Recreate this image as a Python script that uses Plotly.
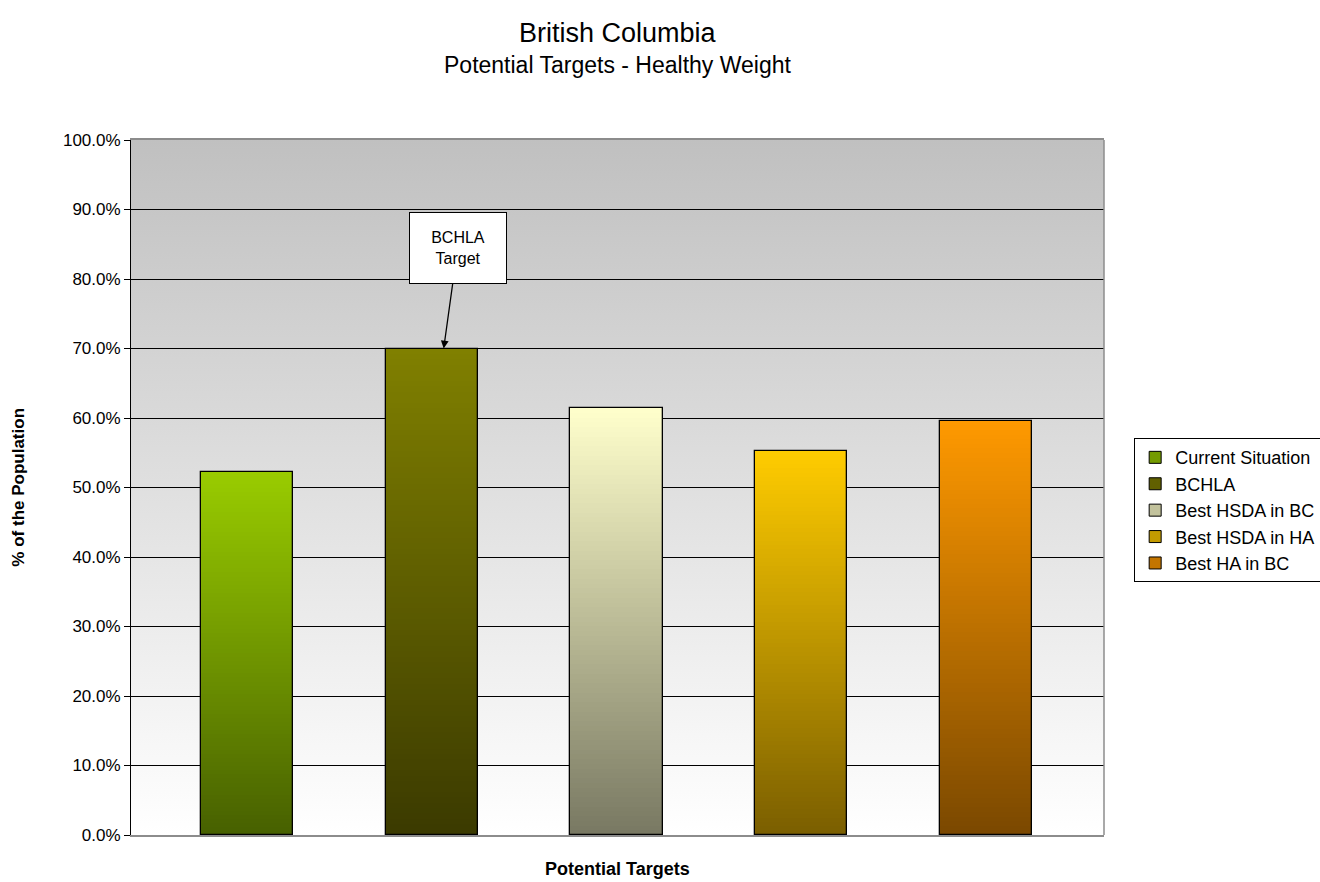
import base64
import plotly.graph_objects as go

# ---- data -------------------------------------------------------------
categories = ["Current Situation", "BCHLA", "Best HSDA in BC",
              "Best HSDA in HA", "Best HA in BC"]
values = [52.3, 70.0, 61.4, 55.2, 59.6]
top_colors = ["#99CC00", "#808000", "#FFFFCC", "#FFCC00", "#FF9900"]
bottom_colors = ["#476000", "#3B3A00", "#787862", "#7A5E00", "#7A4800"]
y_ticks = [0, 10, 20, 30, 40, 50, 60, 70, 80, 90, 100]

FONT = "Liberation Sans, Arial, sans-serif"
N_STEPS = 90  # vertical gradient steps per bar


def hex_rgb(h):
    h = h.lstrip("#")
    return tuple(int(h[i:i + 2], 16) for i in (0, 2, 4))


def mix(c0, c1, t):
    a, b = hex_rgb(c0), hex_rgb(c1)
    return "rgb(%d,%d,%d)" % tuple(round(a[i] + (b[i] - a[i]) * t) for i in range(3))


xpos = list(range(len(categories)))
fig = go.Figure()

# legend entries (solid swatches, covered by the gradient bars)
for i, (cat, v) in enumerate(zip(categories, values)):
    fig.add_trace(go.Bar(
        x=[xpos[i]], y=[v], name=cat, width=0.5,
        marker=dict(color=mix(bottom_colors[i], top_colors[i], 0.55),
                    line=dict(color="black", width=1)),
        hoverinfo="skip",
    ))

# gradient fill: each bar is stacked from thin bands, dark at the base
for k in range(N_STEPS):
    t = (k + 0.5) / N_STEPS
    fig.add_trace(go.Bar(
        x=xpos,
        y=[v / N_STEPS * 1.01 if k < N_STEPS - 1 else v / N_STEPS for v in values],
        base=[v * k / N_STEPS for v in values],
        width=0.5,
        marker=dict(color=[mix(b, tc, t) for b, tc in zip(bottom_colors, top_colors)],
                    line=dict(width=0)),
        showlegend=False, hoverinfo="skip",
    ))

# bar outlines
fig.add_trace(go.Bar(
    x=xpos, y=values, width=0.5,
    marker=dict(color="rgba(0,0,0,0)", line=dict(color="black", width=1.3)),
    showlegend=False, customdata=categories,
    hovertemplate="%{customdata}: %{y:.1f}%<extra></extra>",
))

# plot-area background: grey at the top fading to white
svg = ('<svg xmlns="http://www.w3.org/2000/svg" width="100" height="100" '
       'viewBox="0 0 100 100" preserveAspectRatio="none">'
       '<defs><linearGradient id="g" x1="0" y1="0" x2="0" y2="1">'
       '<stop offset="0" stop-color="#c0c0c0"/>'
       '<stop offset="1" stop-color="#ffffff"/></linearGradient></defs>'
       '<rect width="100" height="100" fill="url(#g)"/></svg>')
bg_uri = "data:image/svg+xml;base64," + base64.b64encode(svg.encode()).decode()

fig.update_layout(
    width=1320, height=882, autosize=False,
    margin=dict(l=131, r=216, t=140, b=47, autoexpand=False),
    paper_bgcolor="white", plot_bgcolor="rgba(0,0,0,0)",
    barmode="overlay", bargap=0,
    font=dict(family=FONT, size=17, color="black"),
    images=[dict(source=bg_uri, xref="paper", yref="paper", x=0, y=1,
                 sizex=1, sizey=1, xanchor="left", yanchor="top",
                 sizing="stretch", layer="below")],
    xaxis=dict(range=[-0.628, 4.64], showticklabels=False, ticks="",
               showgrid=False, zeroline=False, showline=True,
               linecolor="#8c8c8c", linewidth=1.5, mirror=True, fixedrange=True),
    yaxis=dict(range=[0, 100], tickvals=y_ticks,
               ticktext=["%.1f%%" % t for t in y_ticks],
               showgrid=True, gridcolor="black", gridwidth=1,
               showline=True, linecolor="black", linewidth=1,
               ticks="outside", ticklen=6, tickcolor="black",
               zeroline=False, tickfont=dict(size=17), fixedrange=True),
    legend=dict(x=1.031, y=0.571, xanchor="left", yanchor="top",
                bgcolor="white", bordercolor="black", borderwidth=1,
                font=dict(size=18), tracegroupgap=0, itemclick=False,
                itemwidth=30),
    shapes=[dict(type="line", xref="x domain", yref="y domain",
                 x0=1, x1=1, y0=0, y1=1, layer="above",
                 line=dict(color="#8c8c8c", width=1.5))],
    annotations=[
        dict(text="British Columbia", xref="paper", yref="paper",
             x=0.5, y=1.154, xanchor="center", yanchor="middle",
             showarrow=False, font=dict(size=27)),
        dict(text="Potential Targets - Healthy Weight", xref="paper", yref="paper",
             x=0.5, y=1.108, xanchor="center", yanchor="middle",
             showarrow=False, font=dict(size=23)),
        dict(text="% of the Population", xref="paper", yref="paper",
             x=-0.116, y=0.5, xanchor="center", yanchor="middle",
             textangle=-90, showarrow=False,
             font=dict(size=17, weight="bold")),
        dict(text="Potential Targets", xref="paper", yref="paper",
             x=0.5, y=-0.049, xanchor="center", yanchor="middle",
             showarrow=False, font=dict(size=18, weight="bold")),
        dict(text="BCHLA<br>Target", x=1.065, y=values[1], xref="x", yref="y",
             ax=14, ay=-101, showarrow=True, arrowhead=2, arrowsize=1.2,
             arrowwidth=1.3, arrowcolor="black",
             bgcolor="white", bordercolor="black", borderwidth=1,
             width=88, height=62, borderpad=4, font=dict(size=16)),
    ],
)

fig.write_html("out.html")
